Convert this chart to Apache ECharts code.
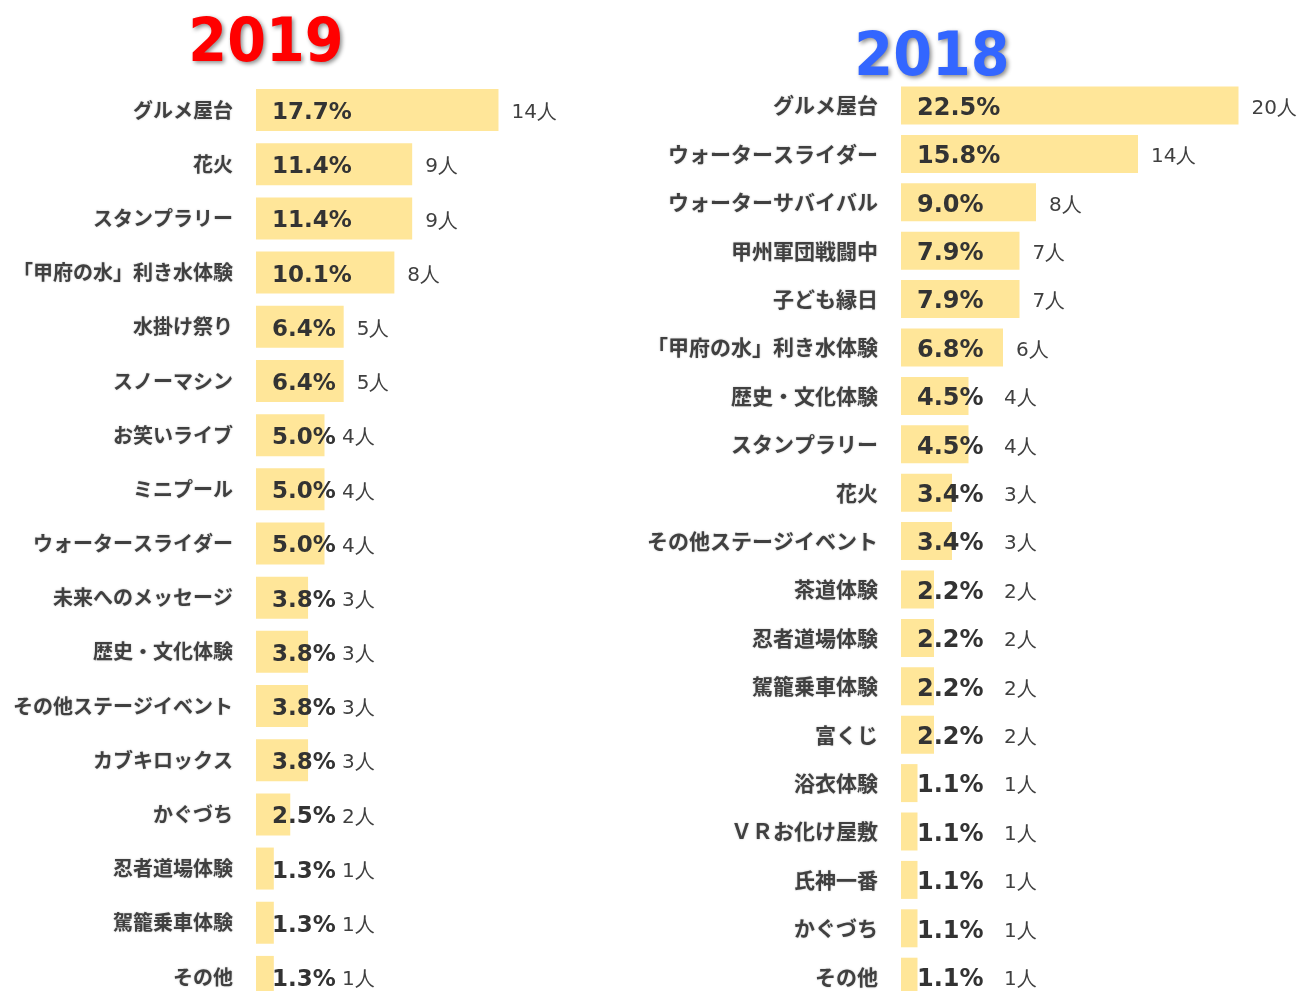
<!DOCTYPE html>
<html>
<head>
<meta charset="utf-8">
<title>イベント人気 2019 / 2018</title>
<script src="https://cdn.jsdelivr.net/npm/echarts@6/dist/echarts.min.js"></script>
<style>
  html, body { margin: 0; padding: 0; background: #fff; overflow: hidden; }
  /* taller than the window: the last row runs off the bottom edge as in the original */
  #main { width: 1307px; height: 1020px; }
</style>
</head>
<body>
<div id="main"></div>
<script>
// 2019
var cats2019 = ['グルメ屋台', '花火', 'スタンプラリー', '「甲府の水」利き水体験', '水掛け祭り', 'スノーマシン',
    'お笑いライブ', 'ミニプール', 'ウォータースライダー', '未来へのメッセージ', '歴史・文化体験',
    'その他ステージイベント', 'カブキロックス', 'かぐづち', '忍者道場体験', '駕籠乗車体験', 'その他'];
var pct2019 = [17.7, 11.4, 11.4, 10.1, 6.4, 6.4, 5.0, 5.0, 5.0, 3.8, 3.8, 3.8, 3.8, 2.5, 1.3, 1.3, 1.3];
var cnt2019 = [14, 9, 9, 8, 5, 5, 4, 4, 4, 3, 3, 3, 3, 2, 1, 1, 1];

// 2018
var cats2018 = ['グルメ屋台', 'ウォータースライダー', 'ウォーターサバイバル', '甲州軍団戦闘中', '子ども縁日',
    '「甲府の水」利き水体験', '歴史・文化体験', 'スタンプラリー', '花火', 'その他ステージイベント',
    '茶道体験', '忍者道場体験', '駕籠乗車体験', '富くじ', '浴衣体験', 'ＶＲお化け屋敷', '氏神一番', 'かぐづち', 'その他'];
var pct2018 = [22.5, 15.8, 9.0, 7.9, 7.9, 6.8, 4.5, 4.5, 3.4, 3.4, 2.2, 2.2, 2.2, 2.2, 1.1, 1.1, 1.1, 1.1, 1.1];
var cnt2018 = [20, 14, 8, 7, 7, 6, 4, 4, 3, 3, 2, 2, 2, 2, 1, 1, 1, 1, 1];

var barColor = '#FFE699';
var catFont = '"Noto Sans CJK JP", sans-serif';
var numFont = '"DejaVu Sans", Verdana, sans-serif';

function catAxis(idx, cats, size) {
    return {
        type: 'category',
        gridIndex: idx,
        data: cats,
        inverse: true,
        axisLine: { show: false },
        axisTick: { show: false },
        axisLabel: {
            margin: 23,
            fontFamily: catFont,
            fontSize: size,
            fontWeight: 'bold',
            color: '#404040',
            textShadowColor: 'rgba(0,0,0,0.25)',
            textShadowBlur: 2
        }
    };
}

function valAxis(idx, max) {
    return {
        type: 'value',
        gridIndex: idx,
        min: 0,
        max: max,
        show: false,
        splitLine: { show: false }
    };
}

// bar with percent inside + a transparent copy carrying the head count
function barPair(idx, pct, cnt, bw, pctSize, minOff) {
    return [
        {
            type: 'bar',
            xAxisIndex: idx,
            yAxisIndex: idx,
            data: pct,
            barWidth: bw,
            barGap: '-100%',
            itemStyle: { color: barColor },
            label: {
                show: true,
                position: 'insideLeft',
                distance: 16,
                offset: [0, 3],
                fontFamily: numFont,
                fontWeight: 'bold',
                fontSize: pctSize,
                color: '#333',
                formatter: function (p) { return p.value.toFixed(1) + '%'; }
            },
            z: 2
        },
        {
            type: 'bar',
            xAxisIndex: idx,
            yAxisIndex: idx,
            data: pct,
            barWidth: bw,
            barGap: '-100%',
            itemStyle: { color: 'rgba(0,0,0,0)' },
            label: {
                show: true,
                position: 'right',
                distance: 13,
                fontFamily: numFont,
                fontSize: 20,
                color: '#404040',
                formatter: function (p) { return cnt[p.dataIndex] + '人'; }
            },
            labelLayout: function (params) {
                return {
                    x: Math.max(params.labelRect.x, params.rect.x + minOff),
                    y: params.rect.y + params.rect.height / 2 + 3,
                    verticalAlign: 'middle'
                };
            },
            z: 3
        }
    ];
}

var myChart = echarts.init(document.getElementById('main'));

var option = {
    backgroundColor: '#fff',
    animation: false,
    grid: [
        { left: 256, top: 83, width: 274, height: 921 },
        { left: 901, top: 81.3, width: 375, height: 919.6 }
    ],
    xAxis: [valAxis(0, 20), valAxis(1, 25)],
    yAxis: [catAxis(0, cats2019, 20), catAxis(1, cats2018, 21)],
    graphic: [
        {
            type: 'text',
            x: 266, y: 45,
            scaleX: 0.93,
            style: {
                text: '2019',
                fontFamily: numFont,
                fontWeight: 'bold',
                fontSize: 60,
                fill: '#FF0000',
                align: 'center',
                verticalAlign: 'middle',
                textShadowColor: 'rgba(0,0,0,0.45)',
                textShadowBlur: 4,
                textShadowOffsetX: 2,
                textShadowOffsetY: 2
            }
        },
        {
            type: 'text',
            x: 932, y: 59,
            scaleX: 0.93,
            style: {
                text: '2018',
                fontFamily: numFont,
                fontWeight: 'bold',
                fontSize: 60,
                fill: '#3366FF',
                align: 'center',
                verticalAlign: 'middle',
                textShadowColor: 'rgba(0,0,0,0.45)',
                textShadowBlur: 4,
                textShadowOffsetX: 2,
                textShadowOffsetY: 2
            }
        }
    ],
    series: barPair(0, pct2019, cnt2019, 42, 23, 86)
        .concat(barPair(1, pct2018, cnt2018, 38, 24, 103))
};

myChart.setOption(option, true);
</script>
</body>
</html>
